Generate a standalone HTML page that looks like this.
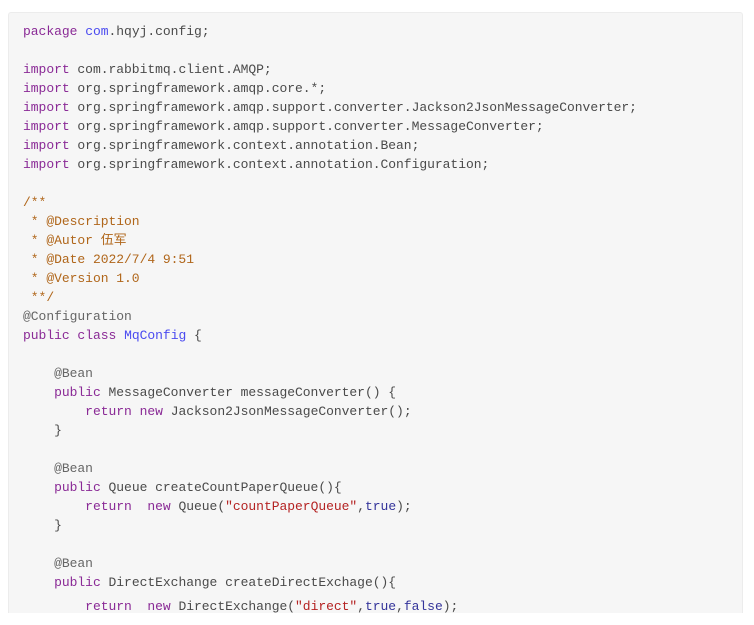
<!DOCTYPE html>
<html><head><meta charset="utf-8"><style>
body{margin:0;background:#fff;width:754px;height:625px;overflow:hidden}
.box{position:absolute;left:8px;top:12px;width:735px;height:601px;background:#f6f6f6;border:1px solid #ececec;border-bottom:none;border-radius:3px 3px 0 0;box-sizing:border-box}
pre{position:absolute;left:23px;top:22px;margin:0;font-family:"Liberation Mono","Noto Sans CJK SC",monospace;font-size:13px;line-height:19px;color:#4a4a4a;letter-spacing:-0.03px}
.k{color:#8a2a96}.b{color:#4a4af0}.c{color:#b0661a}.s{color:#b42222}.a{color:#666}.t{color:#33339a}
.last{display:inline-block;margin-top:5px}
</style></head><body><div class="box"></div>
<pre><span class="k">package</span> <span class="b">com</span>.hqyj.config;

<span class="k">import</span> com.rabbitmq.client.AMQP;
<span class="k">import</span> org.springframework.amqp.core.*;
<span class="k">import</span> org.springframework.amqp.support.converter.Jackson2JsonMessageConverter;
<span class="k">import</span> org.springframework.amqp.support.converter.MessageConverter;
<span class="k">import</span> org.springframework.context.annotation.Bean;
<span class="k">import</span> org.springframework.context.annotation.Configuration;

<span class="c">/**
 * @Description
 * @Autor 伍军
 * @Date 2022/7/4 9:51
 * @Version 1.0
 **/</span>
<span class="a">@Configuration</span>
<span class="k">public</span> <span class="k">class</span> <span class="b">MqConfig</span> {

    <span class="a">@Bean</span>
    <span class="k">public</span> MessageConverter messageConverter() {
        <span class="k">return</span> <span class="k">new</span> Jackson2JsonMessageConverter();
    }

    <span class="a">@Bean</span>
    <span class="k">public</span> Queue createCountPaperQueue(){
        <span class="k">return</span>  <span class="k">new</span> Queue(<span class="s">"countPaperQueue"</span>,<span class="t">true</span>);
    }

    <span class="a">@Bean</span>
    <span class="k">public</span> DirectExchange createDirectExchage(){
<span class="last">        <span class="k">return</span>  <span class="k">new</span> DirectExchange(<span class="s">"direct"</span>,<span class="t">true</span>,<span class="t">false</span>);</span></pre>
</body></html>
